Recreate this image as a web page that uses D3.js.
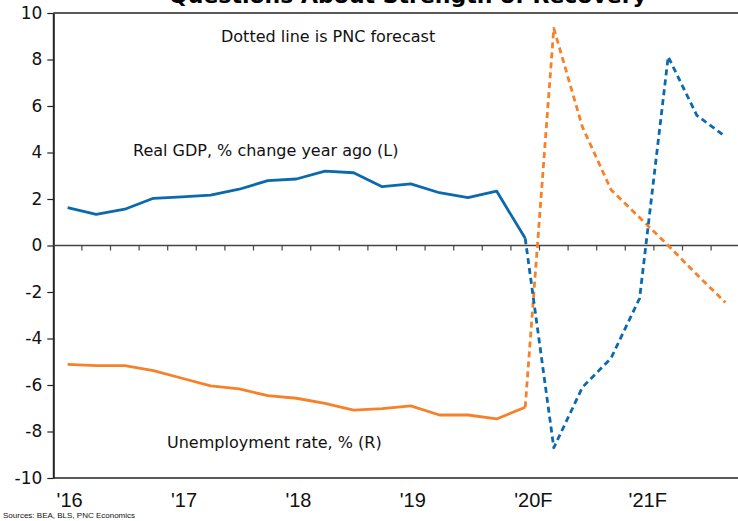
<!DOCTYPE html>
<html>
<head>
<meta charset="utf-8">
<script src="https://cdn.jsdelivr.net/npm/d3@7"></script>
<style>
  body { margin: 0; background: #fff; }
  svg { display: block; }
  .lbl { font-family: "DejaVu Sans", Verdana, sans-serif; font-size: 16px; fill: #111; }
</style>
</head>
<body>
<svg id="chart" width="738" height="521"></svg>
<script>
// quarters 2016Q1 .. 2021Q4
const quarters = d3.range(24);
const yearLabels = ["'16", "'17", "'18", "'19", "'20F", "'21F"];
const yTicks = [-10, -8, -6, -4, -2, 0, 2, 4, 6, 8, 10];

// Real GDP, % change year ago; actual through 2020Q1, then forecast
const gdpActual = [1.63, 1.34, 1.56, 2.03, 2.09, 2.17, 2.42, 2.79, 2.86, 3.2, 3.13, 2.53,
                   2.65, 2.27, 2.06, 2.34, 0.31];
const gdpForecast = [0.31, -8.7, -6.1, -4.85, -2.27, 8.12, 5.6, 4.68];

const unempActual = [-5.11, -5.17, -5.17, -5.38, -5.71, -6.04, -6.17, -6.46, -6.57, -6.79, -7.08, -7.02,
                     -6.9, -7.29, -7.29, -7.46, -6.96];
const unempForecast = [-6.96, 9.34, 5.1, 2.4, 1.2, 0.0, -1.25, -2.45];

const blue = "#0a6aad";
const orange = "#f5822a";

const svg = d3.select("#chart");
const plotLeft = 53.3, plotRight = 739.7, plotTop = 13, plotBottom = 478;

const x = d3.scaleLinear().domain([0, 24]).range([plotLeft, plotRight]);
const y = d3.scaleLinear().domain([-10, 10]).range([plotBottom, plotTop]);

// Title (partly cut off at the top, as in the original)
svg.append("text")
    .attr("x", 408)
    .attr("y", 3)
    .attr("text-anchor", "middle")
    .style("font-family", "DejaVu Sans, Verdana, sans-serif")
    .style("font-weight", "bold")
    .style("font-size", "22px")
    .text("Questions About Strength of Recovery");

// frame lines
svg.append("line").attr("x1", plotLeft).attr("x2", 738).attr("y1", plotTop).attr("y2", plotTop)
    .attr("stroke", "#222").attr("stroke-width", 1.5);
svg.append("line").attr("x1", plotLeft).attr("x2", 738).attr("y1", plotBottom).attr("y2", plotBottom)
    .attr("stroke", "#222").attr("stroke-width", 1.5);

// y axis
const yAxis = svg.append("g")
    .attr("transform", `translate(${plotLeft},0)`)
    .call(d3.axisLeft(y).tickValues(yTicks).tickFormat(d => String(d))
        .tickSize(6).tickSizeOuter(0).tickPadding(5));
yAxis.select(".domain").attr("stroke", "#222").attr("stroke-width", 2);
yAxis.selectAll(".tick line").attr("stroke", "#222").attr("stroke-width", 1.2);
yAxis.selectAll(".tick text")
    .style("font-family", "DejaVu Sans, Verdana, sans-serif")
    .style("font-size", "17px")
    .attr("fill", "#111");

// zero line with quarter ticks
svg.append("line").attr("x1", plotLeft).attr("x2", 738).attr("y1", y(0)).attr("y2", y(0))
    .attr("stroke", "#444").attr("stroke-width", 1.5);
svg.append("g").selectAll("line")
    .data(d3.range(1, 24))
    .join("line")
    .attr("x1", d => x(d)).attr("x2", d => x(d))
    .attr("y1", y(0)).attr("y2", y(0) + 5)
    .attr("stroke", "#444").attr("stroke-width", 1.2);

// year labels
svg.append("g").selectAll("text")
    .data(yearLabels)
    .join("text")
    .attr("x", (d, i) => x(i * 4 + 0.5) - 11)
    .attr("y", 507)
    .style("font-family", "'Liberation Sans Narrow', 'Arial Narrow', sans-serif")
    .style("font-size", "20px")
    .attr("fill", "#111")
    .text(d => d);

// lines
const line = d3.line().x(d => x(d[0] + 0.5)).y(d => y(d[1]));

function drawSeries(vals, offset, color, dashed) {
    svg.append("path")
        .datum(vals.map((v, i) => [i + offset, v]))
        .attr("d", line)
        .attr("fill", "none")
        .attr("stroke", color)
        .attr("stroke-width", 2.8)
        .attr("stroke-linejoin", "round")
        .attr("stroke-dasharray", dashed ? "6,4" : null);
}

drawSeries(unempActual, 0, orange, false);
drawSeries(gdpActual, 0, blue, false);
drawSeries(unempForecast, 16, orange, true);
drawSeries(gdpForecast, 16, blue, true);

// annotations
svg.append("text").attr("class", "lbl").attr("x", 221).attr("y", 42).text("Dotted line is PNC forecast");
svg.append("text").attr("class", "lbl").attr("x", 133).attr("y", 156).text("Real GDP, % change year ago (L)");
svg.append("text").attr("class", "lbl").attr("x", 167).attr("y", 448).text("Unemployment rate, % (R)");

// source
svg.append("text")
    .attr("x", 3).attr("y", 518)
    .style("font-family", "'Liberation Sans Narrow', Arial, sans-serif")
    .style("font-size", "8px")
    .attr("fill", "#111")
    .text("Sources: BEA, BLS, PNC Economics");
</script>
</body>
</html>
